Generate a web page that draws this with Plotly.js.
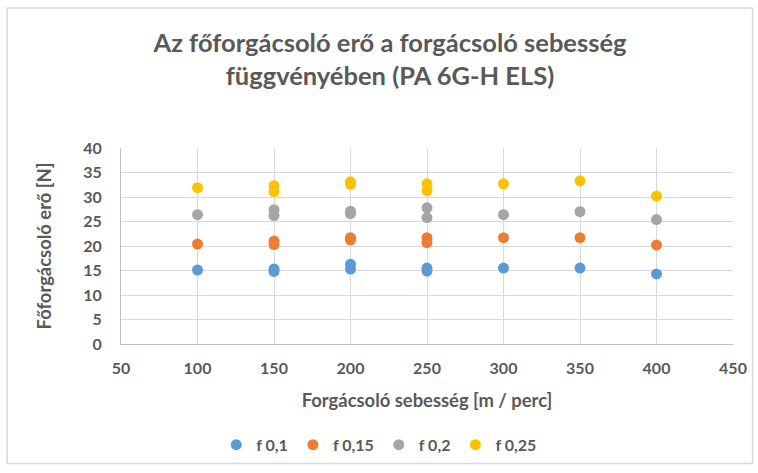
<!DOCTYPE html>
<html><head><meta charset="utf-8">
<script src="https://cdn.plot.ly/plotly-3.0.1.min.js"></script>
<style>html,body{margin:0;padding:0;background:#fff}#c{width:758px;height:473px}</style>
</head><body><div id="c"></div>
<script>
const speeds = [100, 150, 150, 200, 200, 250, 250, 300, 350, 400];
const f01  = [15.1, 15.3, 14.8, 16.3, 15.3, 15.5, 14.9, 15.5, 15.5, 14.3];
const f015 = [20.4, 21.0, 20.3, 21.7, 21.2, 21.7, 20.7, 21.7, 21.7, 20.2];
const f02  = [26.4, 27.4, 26.2, 27.1, 26.6, 27.8, 25.8, 26.4, 27.0, 25.4];
const f025 = [31.9, 32.3, 31.1, 33.1, 32.6, 32.7, 31.3, 32.7, 33.3, 30.2];
const names = ['f 0,1', 'f 0,15', 'f 0,2', 'f 0,25'];
const colors = ['#5B9BD5', '#ED7D31', '#A5A5A5', '#FFC000'];
const series = [f01, f015, f02, f025];
const font = 'Lato, "Open Sans", sans-serif';
const traces = series.map((s, i) => ({
  x: speeds, y: s, type: 'scatter', mode: 'markers', name: names[i],
  marker: {color: colors[i], size: 11}
}));
const layout = {
  width: 758, height: 473,
  margin: {l: 121, r: 25, t: 148, b: 126},
  paper_bgcolor: '#fff', plot_bgcolor: '#fff',
  font: {family: font, color: '#595959', size: 16, weight: 'bold'},
  title: {text: 'Az főforgácsoló erő a forgácsoló sebesség<br>függvényében (PA 6G-H ELS)',
          font: {family: font, size: 25.5, color: '#595959', weight: 'bold'},
          x: 0.5145, xanchor: 'center', y: 0.89, yanchor: 'top'},
  xaxis: {range: [50, 450], dtick: 50, tick0: 50, showgrid: true, gridcolor: '#D9D9D9',
          zeroline: false, showline: true, linecolor: '#BFBFBF', ticks: '',
          ticklabelstandoff: 10,
          tickfont: {size: 16, color: '#595959', weight: 'bold'},
          title: {text: 'Forgácsoló sebesség [m / perc]', font: {size: 18.4, weight: 'bold', color: '#595959'}, standoff: 17}},
  yaxis: {range: [0, 40], dtick: 5, showgrid: true, gridcolor: '#D9D9D9',
          zeroline: false, showline: true, linecolor: '#BFBFBF', ticks: '',
          ticklabelstandoff: 15,
          tickfont: {size: 16, color: '#595959', weight: 'bold'},
          title: {text: 'Főforgácsoló erő [N]', font: {size: 18.4, weight: 'bold', color: '#595959'}, standoff: 26}},
  legend: {orientation: 'h', x: 0.422, xanchor: 'center', y: -0.514, yanchor: 'middle',
           font: {size: 16, color: '#595959', weight: 'bold'}, itemwidth: 30, traceorder: 'normal'},
  shapes: [{type: 'rect', xref: 'paper', yref: 'paper', x0: -0.186, x1: 1.032, y0: -0.61, y1: 1.714,
            line: {color: '#D9D9D9', width: 1.5}}]
};
Plotly.newPlot('c', traces, layout, {displayModeBar: false, staticPlot: true});
</script></body></html>
